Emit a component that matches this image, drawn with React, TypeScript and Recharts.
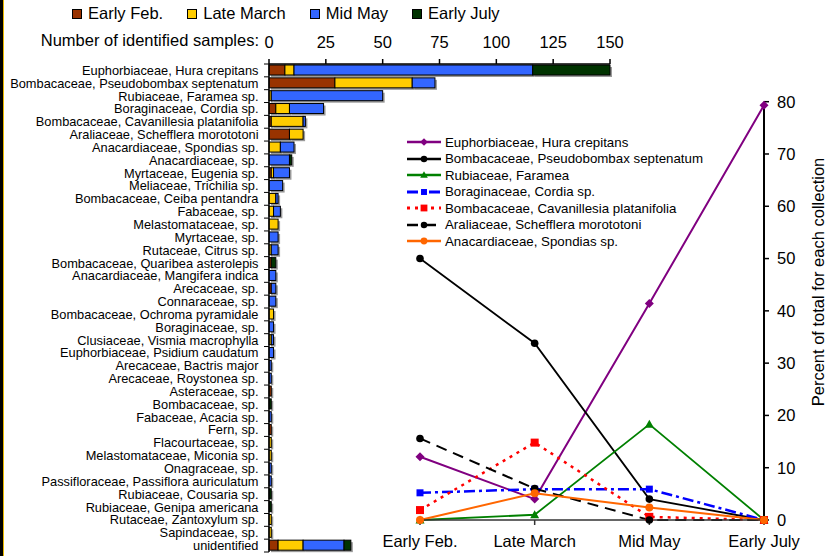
import React from 'react';
import { BarChart, Bar, XAxis, YAxis, LineChart, Line, Legend } from 'recharts';

const categories = [
  'Euphorbiaceae, Hura crepitans',
  'Bombacaceae, Pseudobombax septenatum',
  'Rubiaceae, Faramea sp.',
  'Boraginaceae, Cordia sp.',
  'Bombacaceae, Cavanillesia platanifolia',
  'Araliaceae, Schefflera morototoni',
  'Anacardiaceae, Spondias sp.',
  'Anacardiaceae, sp.',
  'Myrtaceae, Eugenia sp.',
  'Meliaceae, Trichilia sp.',
  'Bombacaceae, Ceiba pentandra',
  'Fabaceae, sp.',
  'Melastomataceae, sp.',
  'Myrtaceae, sp.',
  'Rutaceae, Citrus sp.',
  'Bombacaceae, Quaribea asterolepis',
  'Anacardiaceae, Mangifera indica',
  'Arecaceae, sp.',
  'Connaraceae, sp.',
  'Bombacaceae, Ochroma pyramidale',
  'Boraginaceae, sp.',
  'Clusiaceae, Vismia macrophylla',
  'Euphorbiaceae, Psidium caudatum',
  'Arecaceae, Bactris major',
  'Arecaceae, Roystonea sp.',
  'Asteraceae, sp.',
  'Bombacaceae, sp.',
  'Fabaceae, Acacia sp.',
  'Fern, sp.',
  'Flacourtaceae, sp.',
  'Melastomataceae, Miconia sp.',
  'Onagraceae, sp.',
  'Passifloraceae, Passiflora auriculatum',
  'Rubiaceae, Cousaria sp.',
  'Rubiaceae, Genipa americana',
  'Rutaceae, Zantoxylum sp.',
  'Sapindaceae, sp.',
  'unidentified',
];

const earlyFeb = [7, 29, 0, 3, 1, 9, 0, 0, 1, 0, 0, 0, 0, 0, 0, 1, 0, 1, 0, 0, 0, 0, 0, 0, 0, 1, 0, 0, 1, 0, 0, 0, 0, 0, 0, 0, 0, 4];
const lateMarch = [4, 34, 1, 6, 14, 6, 5, 0, 1, 0, 3, 2, 4, 0, 1, 0, 0, 0, 0, 2, 0, 1, 0, 0, 0, 0, 0, 0, 0, 1, 1, 0, 0, 0, 0, 1, 1, 11];
const midMay = [105, 10, 49, 15, 1, 0, 6, 9, 7, 6, 1, 3, 0, 4, 3, 0, 3, 2, 3, 0, 2, 1, 2, 1, 1, 0, 0, 1, 0, 0, 0, 1, 1, 0, 0, 0, 0, 18];
const earlyJuly = [34, 0, 0, 0, 0, 0, 0, 1, 0, 0, 0, 0, 0, 0, 0, 2, 0, 0, 0, 0, 0, 0, 0, 0, 0, 0, 1, 0, 0, 0, 0, 0, 0, 1, 1, 0, 0, 3];

const sampleTicks = [0, 25, 50, 75, 100, 125, 150];

const collections = ['Early Feb.', 'Late March', 'Mid May', 'Early July'];
const percentTicks = [0, 10, 20, 30, 40, 50, 60, 70, 80];

const huraPct = [12.1, 4.0, 41.4, 79.3];
const pseudobombaxPct = [50.0, 33.8, 4.0, 0];
const farameaPct = [0, 1.0, 18.3, 0];
const cordiaPct = [5.2, 5.9, 5.9, 0];
const cavanillesiaPct = [1.9, 14.8, 0.6, 0];
const scheffleraPct = [15.6, 6.0, 0, 0];
const spondiasPct = [0, 5.1, 2.4, 0];

const FONT = '"Liberation Sans", Arial, sans-serif';

const barData = categories.map((name, i) => ({
  name,
  feb: earlyFeb[i],
  mar: lateMarch[i],
  may: midMay[i],
  jul: earlyJuly[i],
}));

const barSeries = [
  { key: 'feb', name: 'Early Feb.', color: '#993300' },
  { key: 'mar', name: 'Late March', color: '#FFCC00' },
  { key: 'may', name: 'Mid May', color: '#3366FF' },
  { key: 'jul', name: 'Early July', color: '#003300' },
];

const lineSeries = [
  { key: 'hura', name: 'Euphorbiaceae, Hura crepitans', values: huraPct, color: '#800080', width: 2, dash: undefined, marker: 'diamond', size: 4.5 },
  { key: 'pseudo', name: 'Bombacaceae, Pseudobombax septenatum', values: pseudobombaxPct, color: '#000000', width: 1.8, dash: undefined, marker: 'circle', size: 3.8 },
  { key: 'faramea', name: 'Rubiaceae, Faramea', values: farameaPct, color: '#008000', width: 1.8, dash: undefined, marker: 'triangle', size: 4.5 },
  { key: 'cordia', name: 'Boraginaceae, Cordia sp.', values: cordiaPct, color: '#0000FF', width: 2.5, dash: '11 4 3 4', marker: 'square', size: 3.5 },
  { key: 'cava', name: 'Bombacaceae, Cavanillesia platanifolia', values: cavanillesiaPct, color: '#FF0000', width: 2.5, dash: '3 5', marker: 'square', size: 4 },
  { key: 'scheff', name: 'Araliaceae, Schefflera morototoni', values: scheffleraPct, color: '#000000', width: 2, dash: '11 7', marker: 'circle', size: 3.8 },
  { key: 'spond', name: 'Anacardiaceae, Spondias sp.', values: spondiasPct, color: '#FF6600', width: 2, dash: undefined, marker: 'circle', size: 4 },
];

const lineData = collections.map((name, i) => {
  const row: any = { name };
  lineSeries.forEach((s) => {
    row[s.key] = s.values[i];
  });
  return row;
});

// layout constants
const PLOT_TOP = 64;
const PLOT_BOTTOM = 552;
const BAND = (PLOT_BOTTOM - PLOT_TOP) / categories.length;

function Marker({ shape, cx, cy, color, size }: any) {
  const s = size;
  if (shape === 'diamond') {
    return <polygon points={`${cx},${cy - s} ${cx + s},${cy} ${cx},${cy + s} ${cx - s},${cy}`} fill={color} />;
  }
  if (shape === 'triangle') {
    return <polygon points={`${cx},${cy - s} ${cx + s},${cy + s * 0.75} ${cx - s},${cy + s * 0.75}`} fill={color} />;
  }
  if (shape === 'square') {
    return <rect x={cx - s} y={cy - s} width={2 * s} height={2 * s} fill={color} />;
  }
  return <circle cx={cx} cy={cy} r={s} fill={color} />;
}

function ShadowBar(props: any) {
  const { x, y, width, height, fill } = props;
  if (!width || width <= 0) return null;
  return (
    <g>
      <rect x={x + 2} y={y + 2} width={width} height={height} fill="#9a9a9a" />
      <rect x={x} y={y} width={width} height={height} fill={fill} stroke="#000" strokeWidth={1} />
    </g>
  );
}

function CategoryTick(props: any) {
  const { x, y, payload, index } = props;
  return (
    <g>
      <text x={x - 10.5} y={y} dy="0.35em" textAnchor="end" fontSize={12.8} fontFamily={FONT} fill="#000">
        {payload.value}
      </text>
      {index === 0 && <line x1={x - 5} x2={x} y1={y - BAND / 2} y2={y - BAND / 2} stroke="#000" strokeWidth={1} />}
      <line x1={x - 5} x2={x} y1={y + BAND / 2} y2={y + BAND / 2} stroke="#000" strokeWidth={1} />
    </g>
  );
}

function BarLegend() {
  return (
    <div style={{ display: 'flex', gap: 24, fontFamily: FONT, fontSize: 16.5, color: '#000', alignItems: 'center', whiteSpace: 'nowrap' }}>
      {barSeries.map((s) => (
        <div key={s.key} style={{ display: 'flex', alignItems: 'center', gap: 6 }}>
          <div style={{ width: 8, height: 8, background: s.color, border: '1px solid #000' }} />
          <span>{s.name}</span>
        </div>
      ))}
    </div>
  );
}

function LineLegend() {
  return (
    <div style={{ fontFamily: FONT, fontSize: 13.3, color: '#000', whiteSpace: 'nowrap' }}>
      {lineSeries.map((s) => (
        <div key={s.key} style={{ display: 'flex', alignItems: 'center', height: 16.5 }}>
          <svg width={36} height={12} style={{ display: 'block' }}>
            <line x1={0} x2={34} y1={6} y2={6} stroke={s.color} strokeWidth={s.width + 0.5} strokeDasharray={s.dash} />
            <Marker shape={s.marker} cx={17} cy={6} color={s.color} size={s.size * 0.85} />
          </svg>
          <span style={{ marginLeft: 2 }}>{s.name}</span>
        </div>
      ))}
    </div>
  );
}

export default function App() {
  return (
    <div style={{ position: 'absolute', left: 0, top: 0, width: 831, height: 556, background: '#fff', overflow: 'hidden' }}>
      <div style={{ position: 'absolute', left: 0, top: 0, width: 3, height: 556, background: '#000' }} />
      <div style={{ position: 'absolute', left: 3, top: 0, width: 1, height: 556, background: '#E8B800' }} />

      <div style={{ position: 'absolute', left: 0, top: 0 }}>
        <BarChart
          width={831}
          height={556}
          data={barData}
          layout="vertical"
          margin={{ top: PLOT_TOP - 30, right: 831 - 610, bottom: 556 - PLOT_BOTTOM, left: 0 }}
          barSize={10}
        >
          <XAxis
            type="number"
            orientation="top"
            domain={[0, 150]}
            ticks={sampleTicks}
            height={30}
            tickSize={5}
            tickMargin={11}
            tick={{ fontSize: 16.5, fontFamily: FONT, fill: '#000' }}
            axisLine={{ stroke: '#000', strokeWidth: 1.5 }}
            tickLine={{ stroke: '#000', strokeWidth: 1.5 }}
            interval={0}
          />
          <YAxis
            type="category"
            dataKey="name"
            width={269}
            tickSize={0}
            tickMargin={0}
            tickLine={false}
            axisLine={{ stroke: '#000', strokeWidth: 1.5 }}
            tick={<CategoryTick />}
            interval={0}
          />
          {barSeries.map((s) => (
            <Bar key={s.key} dataKey={s.key} name={s.name} stackId="a" fill={s.color} shape={<ShadowBar />} isAnimationActive={false} />
          ))}
          <Legend
            layout="vertical"
            align="center"
            verticalAlign="middle"
            content={() => <BarLegend />}
            wrapperStyle={{ left: 72, top: 4, width: 500, height: 20 }}
          />
        </BarChart>
      </div>

      <div
        style={{
          position: 'absolute',
          left: 0,
          width: 259,
          top: 30,
          textAlign: 'right',
          fontFamily: FONT,
          fontSize: 16.5,
          lineHeight: '20px',
          color: '#000',
          whiteSpace: 'nowrap',
        }}
      >
        Number of identified samples:
      </div>

      <div style={{ position: 'absolute', left: 0, top: 0 }}>
        <LineChart
          width={831}
          height={556}
          data={lineData}
          margin={{ top: 101.7, right: 17, bottom: 6, left: 420 }}
        >
          <XAxis
            dataKey="name"
            height={30}
            tickSize={5}
            tickMargin={10}
            tick={{ fontSize: 16.5, fontFamily: FONT, fill: '#000' }}
            axisLine={{ stroke: '#333', strokeWidth: 1.5 }}
            tickLine={{ stroke: '#333', strokeWidth: 1.5 }}
            interval={0}
          />
          <YAxis
            orientation="right"
            domain={[0, 80]}
            ticks={percentTicks}
            width={50}
            tickSize={5}
            tickMargin={8}
            tick={{ fontSize: 16.5, fontFamily: FONT, fill: '#000', textAnchor: 'start' }}
            axisLine={{ stroke: '#000', strokeWidth: 2 }}
            tickLine={{ stroke: '#000', strokeWidth: 1.5 }}
            interval={0}
          />
          {lineSeries.map((s) => (
            <Line
              key={s.key}
              dataKey={s.key}
              name={s.name}
              stroke={s.color}
              strokeWidth={s.width}
              strokeDasharray={s.dash}
              isAnimationActive={false}
              dot={(p: any) => (
                <Marker key={`${s.key}-${p.index}`} shape={s.marker} cx={p.cx} cy={p.cy} color={s.color} size={s.size} />
              )}
              activeDot={false}
            />
          ))}
          <Legend
            layout="vertical"
            align="center"
            verticalAlign="middle"
            content={() => <LineLegend />}
            wrapperStyle={{ left: 407, top: 134, width: 330, height: 120 }}
          />
        </LineChart>
      </div>

      <div
        style={{
          position: 'absolute',
          left: 818 - 160,
          top: 282 - 10,
          width: 320,
          height: 20,
          lineHeight: '20px',
          textAlign: 'center',
          transform: 'rotate(-90deg)',
          transformOrigin: '160px 10px',
          fontFamily: FONT,
          fontSize: 16.5,
          color: '#000',
          whiteSpace: 'nowrap',
        }}
      >
        Percent of total for each collection
      </div>
    </div>
  );
}
